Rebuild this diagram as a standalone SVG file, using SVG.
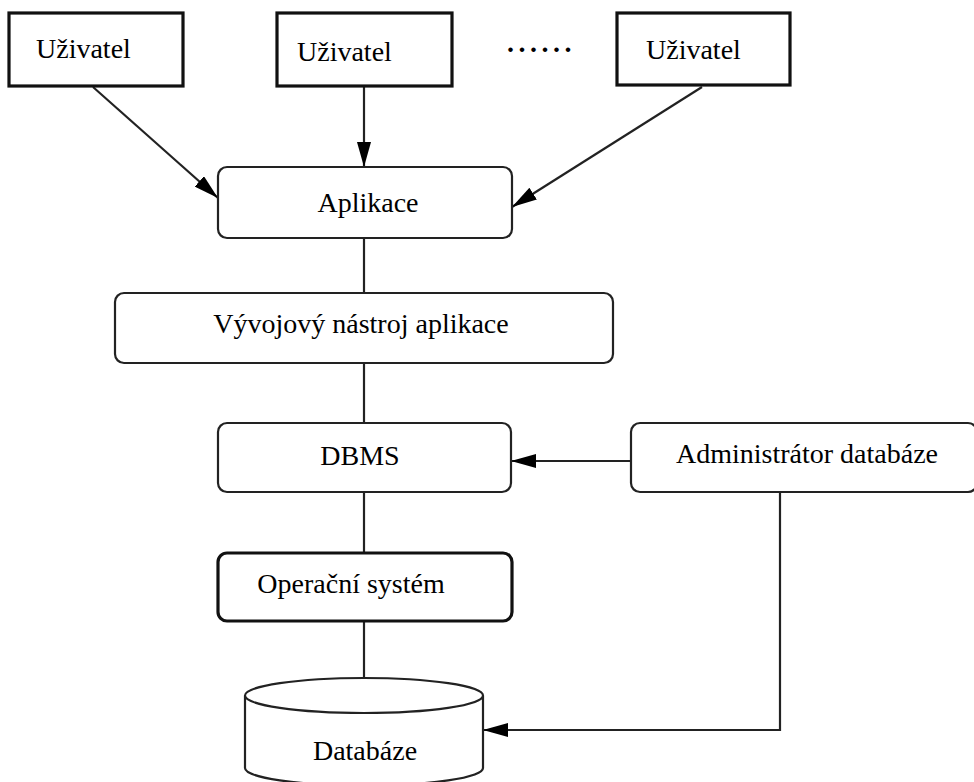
<svg xmlns="http://www.w3.org/2000/svg" width="974" height="782" viewBox="0 0 974 782">
<style>
  .t{font-family:"Liberation Serif","Times New Roman",serif;font-size:28px;fill:#000}
  .user{fill:#fff;stroke:#111;stroke-width:3.2}
  .rb{fill:#fff;stroke:#222;stroke-width:2.2}
  .rbt{fill:#fff;stroke:#111;stroke-width:3.2}
  .ln{fill:none;stroke:#222;stroke-width:2.2}
</style>
<defs>
  <marker id="ah" markerUnits="userSpaceOnUse" markerWidth="26" markerHeight="14" refX="25" refY="7" orient="auto">
    <path d="M0,0 L25,7 L0,14 z" fill="#000"/>
  </marker>
</defs>
<rect width="974" height="782" fill="#fff"/>
<g id="connectors">
  <line class="ln" x1="93" y1="87" x2="218" y2="198" marker-end="url(#ah)"/>
  <line class="ln" x1="364" y1="87" x2="364" y2="167" marker-end="url(#ah)"/>
  <line class="ln" x1="702" y1="87" x2="512" y2="207" marker-end="url(#ah)"/>
  <line class="ln" x1="364" y1="238" x2="364" y2="293"/>
  <line class="ln" x1="364" y1="363" x2="364" y2="423"/>
  <line class="ln" x1="364" y1="492" x2="364" y2="553"/>
  <line class="ln" x1="364" y1="621" x2="364" y2="678"/>
  <line class="ln" x1="631" y1="461" x2="511" y2="461" marker-end="url(#ah)"/>
  <polyline class="ln" points="780,492 780,730 483,730" marker-end="url(#ah)"/>
</g>
<g id="user1">
  <rect class="user" x="9" y="13" width="174" height="73"/>
  <text class="t" x="36" y="58">Uživatel</text>
</g>
<g id="user2">
  <rect class="user" x="277" y="13" width="175" height="73"/>
  <text class="t" x="297" y="61">Uživatel</text>
</g>
<g id="ellipsis">
  <text class="t" x="507" y="52" font-weight="bold" letter-spacing="4.5">......</text>
</g>
<g id="user3">
  <rect class="user" x="617" y="13" width="173" height="72"/>
  <text class="t" x="646" y="59">Uživatel</text>
</g>
<g id="aplikace">
  <rect class="rb" x="218" y="167" width="294" height="71" rx="9"/>
  <text class="t" x="368" y="212" text-anchor="middle">Aplikace</text>
</g>
<g id="vyvojovy">
  <rect class="rb" x="115" y="293" width="498" height="70" rx="9"/>
  <text class="t" x="361" y="333" text-anchor="middle">Vývojový nástroj aplikace</text>
</g>
<g id="dbms">
  <rect class="rb" x="218" y="423" width="293" height="69" rx="9"/>
  <text class="t" x="360" y="465" text-anchor="middle">DBMS</text>
</g>
<g id="admin">
  <rect class="rb" x="631" y="423" width="346" height="69" rx="9"/>
  <text class="t" x="807" y="463" text-anchor="middle">Administrátor databáze</text>
</g>
<g id="os">
  <rect class="rbt" x="218" y="553" width="294" height="68" rx="9"/>
  <text class="t" x="351" y="593" text-anchor="middle">Operační systém</text>
</g>
<g id="databaze">
  <path class="rb" d="M245,695.5 L245,768 A119,17.5 0 0 0 483,768 L483,695.5"/>
  <ellipse class="rb" cx="364" cy="695.5" rx="119" ry="17.5"/>
  <text class="t" x="365" y="760" text-anchor="middle">Databáze</text>
</g>
</svg>
